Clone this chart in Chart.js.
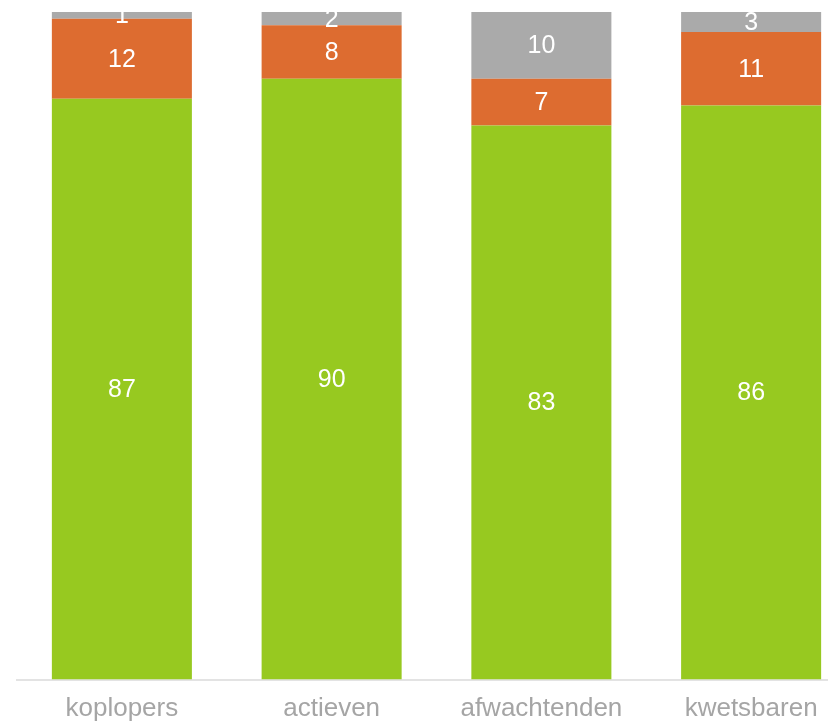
<!DOCTYPE html>
<html>
<head>
<meta charset="utf-8">
<script src="https://cdn.jsdelivr.net/npm/chart.js@4"></script>
<style>
  html, body { margin: 0; padding: 0; background: #ffffff; overflow: hidden; }
  #wrap { position: relative; width: 856px; height: 725px; }
</style>
</head>
<body>
<div id="wrap"><canvas id="c"></canvas></div>
<script>
const categories = ['koplopers', 'actieven', 'afwachtenden', 'kwetsbaren'];
const greenValues = [87, 90, 83, 86];
const orangeValues = [12, 8, 7, 11];
const grayValues = [1, 2, 10, 3];

const labelPlugin = {
  id: 'segLabels',
  afterDatasetsDraw(chart) {
    const ctx = chart.ctx;
    ctx.save();
    ctx.fillStyle = '#ffffff';
    ctx.font = '25px "Liberation Sans", Arial, sans-serif';
    ctx.textAlign = 'center';
    ctx.textBaseline = 'middle';
    chart.data.datasets.forEach((ds, di) => {
      const meta = chart.getDatasetMeta(di);
      meta.data.forEach((bar, i) => {
        const v = ds.data[i];
        const y = (bar.y + bar.base) / 2;
        ctx.fillText(String(v), bar.x, y + 1);
      });
    });
    ctx.restore();
  }
};

new Chart(document.getElementById('c'), {
  type: 'bar',
  data: {
    labels: categories,
    datasets: [
      { label: 'groen', data: greenValues, backgroundColor: '#97c920', borderWidth: 0 },
      { label: 'oranje', data: orangeValues, backgroundColor: '#dd6c30', borderWidth: 0 },
      { label: 'grijs', data: grayValues, backgroundColor: '#aaaaaa', borderWidth: 0 }
    ]
  },
  options: {
    responsive: true,
    maintainAspectRatio: false,
    animation: false,
    layout: { padding: { left: 17, right: 0, top: 12, bottom: 0 } },
    plugins: { legend: { display: false }, tooltip: { enabled: false } },
    datasets: { bar: { categoryPercentage: 1, barPercentage: 0.6676 } },
    scales: {
      x: {
        stacked: true,
        grid: { display: false, drawTicks: false },
        border: { display: true, color: '#e3e3e3', width: 2 },
        afterFit(scale) { scale.height = 45.5; },
        ticks: {
          color: '#a5a5a5',
          padding: 14,
          font: { family: '"Liberation Sans", Arial, sans-serif', size: 26 }
        }
      },
      y: {
        stacked: true,
        display: false,
        min: 0,
        max: 100
      }
    }
  },
  plugins: [labelPlugin]
});
</script>
</body>
</html>
